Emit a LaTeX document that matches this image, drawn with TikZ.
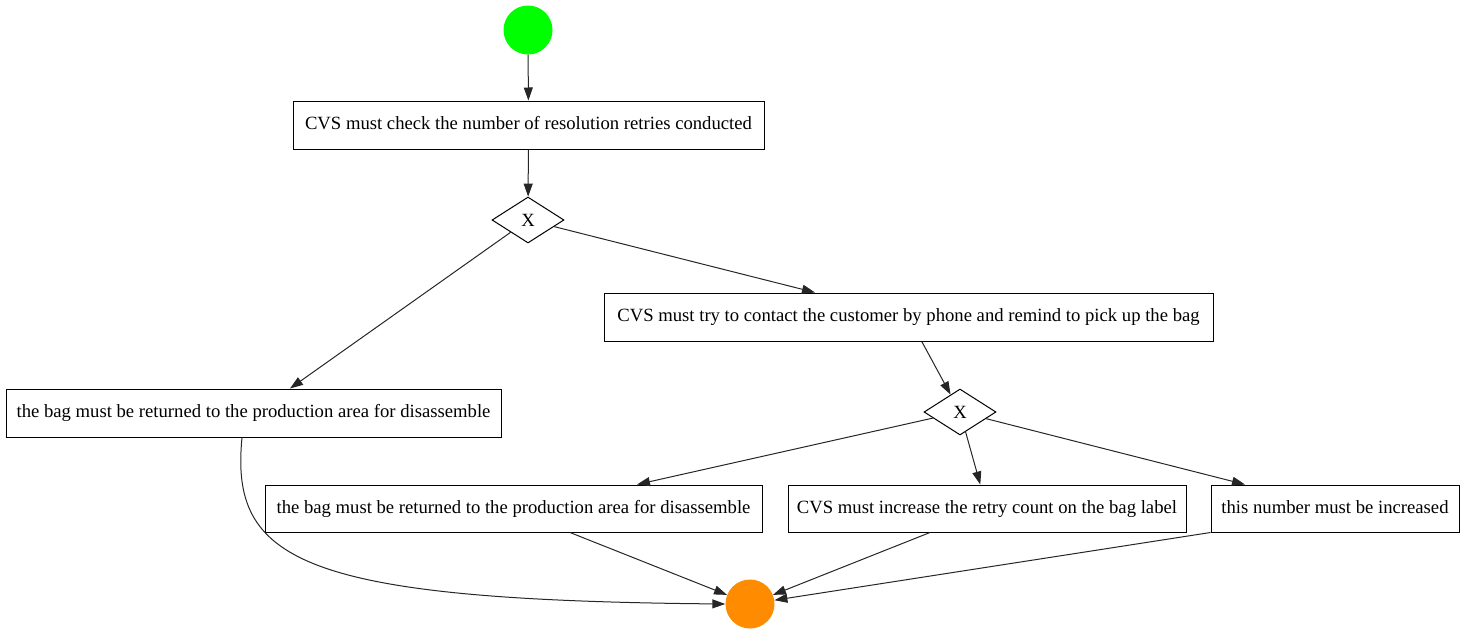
\documentclass[tikz,border=0pt]{standalone}
\usepackage{fontspec}
\setmainfont{Liberation Serif}
\usetikzlibrary{shapes.geometric,arrows.meta}

\begin{document}
\begin{tikzpicture}[x=1pt, y=-1pt,
  task/.style={draw, rectangle, minimum height=48pt, inner sep=0pt, text height=13pt, text depth=4pt, line width=1pt},
  gate/.style={draw, diamond, minimum width=72pt, minimum height=46pt, inner sep=0pt, line width=1pt},
  ev/.style={circle, minimum size=49pt, inner sep=0pt},
  flow/.style={draw=black!85, line width=1pt, -{Triangle[length=13pt,width=9pt]}}]

  \fontsize{18.67}{22}\selectfont
  \useasboundingbox (0,0) rectangle (1465,635);

  \node[ev, fill=green] (start) at (528,30) {};
  \node[task, minimum width=471pt] (check) at (528.5,125) {CVS must check the number of resolution retries conducted};
  \node[gate] (g1) at (528,220) {X};
  \node[task, minimum width=609pt] (phone) at (908.5,317) {CVS must try to contact the customer by phone and remind to pick up the bag};
  \node[task, minimum width=495pt] (ret1) at (253.5,413) {the bag must be returned to the production area for disassemble};
  \node[gate] (g2) at (960,412) {X};
  \node[task, minimum width=497pt, minimum height=47pt] (ret2) at (513.5,508.5) {the bag must be returned to the production area for disassemble};
  \node[task, minimum width=398pt, minimum height=47pt] (retry) at (987,508.5) {CVS must increase the retry count on the bag label};
  \node[task, minimum width=248pt, minimum height=47pt] (incr) at (1335,508.5) {this number must be increased};
  \node[ev, fill={rgb,255:red,255;green,140;blue,0}] (end) at (750,604) {};

  \draw[flow] (start) -- (check);
  \draw[flow] (check) -- (g1);
  \draw[flow] (g1) -- ([xshift=36.5pt]ret1.north); %% g1->ret1
  \draw[flow] (g1) -- ([xshift=-93.5pt]phone.north); %% g1->phone
  \draw[flow] (phone) -- (g2);
  \draw[flow] (g2) -- ([xshift=123.5pt]ret2.north); %% g2->ret2
  \draw[flow] (g2) -- (retry);
  \draw[flow] (g2) -- ([xshift=-90pt]incr.north); %% g2->incr

  \draw[flow] ([xshift=-11.5pt]ret1.south) .. controls +(-12,123) and +(-426,-4) .. (end.west); %% ret1->end
  \draw[flow] ([xshift=56.5pt]ret2.south) -- (end);
  \draw[flow] ([xshift=-57pt]retry.south) -- (end);
  \draw[flow] (incr.south west) -- (end);
\end{tikzpicture}
\end{document}
